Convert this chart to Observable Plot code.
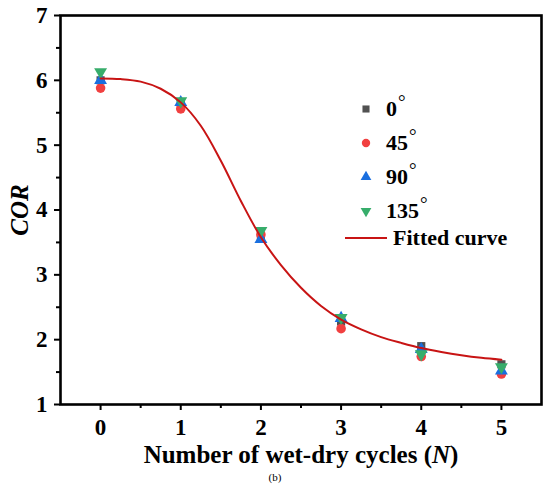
<!DOCTYPE html>
<html>
<head>
<meta charset="utf-8">
<script src="https://cdn.jsdelivr.net/npm/d3@7"></script>
<script src="https://cdn.jsdelivr.net/npm/@observablehq/plot@0.6"></script>
<style>
  html, body { margin: 0; padding: 0; background: #fff; }
  #wrap { position: relative; width: 550px; height: 489px; font-family: "Liberation Serif", "Times New Roman", serif; }
  .leg { position: absolute; display: flex; align-items: center; height: 24px; font-family: "Liberation Serif", "Times New Roman", serif; font-size: 22px; font-weight: bold; color: #000; line-height: 24px; white-space: nowrap; }
  .deg { font-weight: normal; font-size: 19px; position: relative; top: -8px; margin-left: 1px; }
  #cap { position: absolute; left: 0; width: 550px; top: 470px; text-align: center; font-size: 11px; line-height: 14px; color: #000; }
</style>
</head>
<body>
<div id="wrap"></div>
<script>
// ---- data ----
const cycles = [0, 1, 2, 3, 4, 5];
const cor0   = [6.00, 5.65, 3.60, 2.28, 1.90, 1.62];
const cor45  = [5.88, 5.56, 3.62, 2.17, 1.74, 1.47];
const cor90  = [6.00, 5.66, 3.55, 2.33, 1.85, 1.52];
const cor135 = [6.13, 5.68, 3.68, 2.34, 1.78, 1.58];
const seriesNames = ["0", "45", "90", "135"];
const seriesColors = ["#515151", "#F14040", "#1A6FDF", "#37AD6B"];
const fitN   = [0, 0.25, 0.5, 0.75, 1, 1.25, 1.5, 1.75, 2, 2.25, 2.5, 2.75, 3, 3.25, 3.5, 3.75, 4, 4.25, 4.5, 4.75, 5];
const fitCOR = [6.03, 6.02, 5.98, 5.87, 5.66, 5.30, 4.76, 4.14, 3.58, 3.15, 2.80, 2.52, 2.31, 2.16, 2.04, 1.95, 1.87, 1.81, 1.76, 1.72, 1.69];
const xTicks = [0, 1, 2, 3, 4, 5];
const xMinorTicks = [0.5, 1.5, 2.5, 3.5, 4.5];
const yTicks = [1, 2, 3, 4, 5, 6, 7];
const yMinorTicks = [1.5, 2.5, 3.5, 4.5, 5.5, 6.5];
const fitLabel = "Fitted curve";
const xLabel = "Number of wet-dry cycles (N)";
const yLabel = "COR";
const caption = "(b)";

const seriesValues = [cor0, cor45, cor90, cor135];
const symbols = ["square", "circle", "triangle", "triangle"];
const rotations = [0, 0, 0, 180];
const fitColor = "#C81414";

const pts = seriesValues.map(vals => cycles.map((n, i) => ({n, v: vals[i]})));
const fit = fitN.map((n, i) => ({n, v: fitCOR[i]}));

const plot = Plot.plot({
  width: 550,
  height: 468,
  marginLeft: 60,
  marginRight: 9,
  marginTop: 15,
  marginBottom: 64,
  x: {domain: [-0.5, 5.5]},
  y: {domain: [1, 7]},
  style: {
    fontFamily: "'Liberation Serif', 'Times New Roman', serif",
    fontWeight: "bold",
    fontSize: "23px",
    color: "#000",
    background: "#fff",
    overflow: "visible"
  },
  marks: [
    Plot.axisX({ticks: xTicks, tickSize: 6, tickPadding: 8, strokeWidth: 2, tickFormat: d => String(d),
      label: xLabel, labelAnchor: "center", labelArrow: "none", labelOffset: 58, fontSize: 23}),
    Plot.axisX({ticks: xMinorTicks, tickSize: 4, strokeWidth: 2, tickFormat: () => "", label: null}),
    Plot.axisY({ticks: yTicks, tickSize: 6, tickPadding: 7, strokeWidth: 2, tickFormat: d => String(d),
      label: yLabel, labelAnchor: "center", labelArrow: "none", labelOffset: 50, fontSize: 23}),
    Plot.axisY({ticks: yMinorTicks, tickSize: 4, strokeWidth: 2, tickFormat: () => "", label: null}),
    ...pts.map((d, k) => Plot.dot(d, {x: "n", y: "v", symbol: () => symbols[k], rotate: rotations[k],
      fill: seriesColors[k], r: k === 0 ? 4.6 : 4.8, stroke: "none"})),
    Plot.line(fit, {x: "n", y: "v", stroke: fitColor, strokeWidth: 2, curve: "catmull-rom"}),
    Plot.frame({stroke: "#000", strokeWidth: 2.6})
  ]
});

// Italic parts of axis labels
d3.select(plot).selectAll("text").each(function() {
  const t = d3.select(this);
  const s = this.textContent;
  if (s === xLabel) {
    t.text(null).style("font-size", "25px");
    t.append("tspan").text("Number of wet-dry cycles (");
    t.append("tspan").attr("font-style", "italic").text("N");
    t.append("tspan").text(")");
  } else if (s === yLabel) {
    t.style("font-style", "italic").style("font-size", "25px");
  }
});

const wrap = document.getElementById("wrap");
wrap.appendChild(plot);

// Legend (HTML overlay)
const legTop = [109, 143, 177, 211];
seriesNames.forEach((name, k) => {
  const row = document.createElement("div");
  row.className = "leg";
  row.style.left = "355px";
  row.style.top = (legTop[k] - 12) + "px";
  const sym = d3.symbol().type(
    k === 0 ? d3.symbolSquare : k === 1 ? d3.symbolCircle : d3.symbolTriangle
  ).size(k === 1 ? 55 : 50)();
  row.innerHTML =
    `<svg width="22" height="24" style="display:block"><path d="${sym}" fill="${seriesColors[k]}" transform="translate(11,12) rotate(${rotations[k]})"/></svg>` +
    `<span style="margin-left:9px">${name}<span class="deg">°</span></span>`;
  wrap.appendChild(row);
});
const fitRow = document.createElement("div");
fitRow.className = "leg";
fitRow.style.left = "345px";
fitRow.style.top = (238 - 12) + "px";
fitRow.innerHTML =
  `<svg width="42" height="24" style="display:block"><line x1="0" x2="42" y1="12" y2="12" stroke="${fitColor}" stroke-width="2"/></svg>` +
  `<span style="margin-left:6px">${fitLabel}</span>`;
wrap.appendChild(fitRow);

const cap = document.createElement("div");
cap.id = "cap";
cap.textContent = caption;
wrap.appendChild(cap);
</script>
</body>
</html>
